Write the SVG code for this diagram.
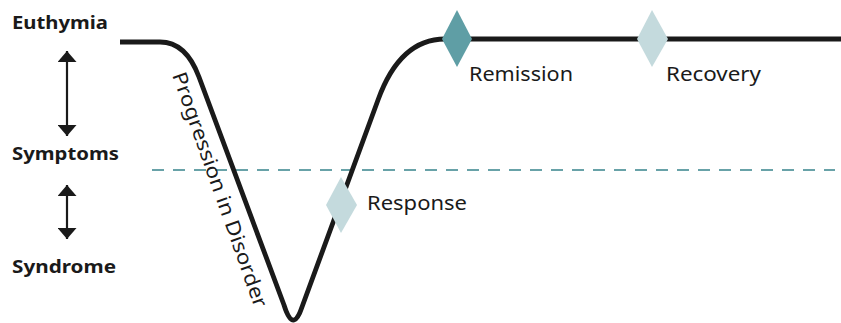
<svg xmlns="http://www.w3.org/2000/svg" width="841" height="323" viewBox="0 0 841 323">
<defs>
<marker id="ah" viewBox="0 0 11 19" refX="11" refY="9.5" markerWidth="11" markerHeight="19" markerUnits="userSpaceOnUse" orient="auto-start-reverse">
<path d="M0,0 L11,9.5 L0,19 z" fill="#1a1a1a"/>
</marker>
<style>
.lvl{font-family:"Noto Sans",sans-serif;font-weight:bold;font-size:18px;fill:#1a1a1a}
.lbl{font-family:"Noto Sans",sans-serif;font-size:20px;fill:#1a1a1a}
.arr{stroke:#1a1a1a;stroke-width:2.2;fill:none;marker-start:url(#ah);marker-end:url(#ah)}
</style>
</defs>
<rect width="841" height="323" fill="#fff"/>
<g id="levels">
<text class="lvl" x="12" y="29" textLength="96" lengthAdjust="spacingAndGlyphs">Euthymia</text>
<text class="lvl" x="12" y="160" textLength="107" lengthAdjust="spacingAndGlyphs">Symptoms</text>
<text class="lvl" x="12" y="273" textLength="104" lengthAdjust="spacingAndGlyphs">Syndrome</text>
</g>
<g id="connectors">
<line class="arr" x1="67" y1="51" x2="67" y2="136"/>
<line class="arr" x1="67" y1="185" x2="67" y2="239"/>
<line x1="152" y1="170" x2="835" y2="170" stroke="#68a2a8" stroke-width="2.2" stroke-dasharray="12 9"/>
<path d="M120,42 L160,42 Q186,42 199,77 L284,305 Q289,321 294,320 Q298,319 302,307 L378,100 Q400,39 445,39 L841,39" fill="none" stroke="#1a1a1a" stroke-width="4.8" stroke-linejoin="round"/>
</g>
<g id="progression">
<text class="lbl" transform="translate(172,75) rotate(70.5)" textLength="248" lengthAdjust="spacingAndGlyphs">Progression in Disorder</text>
</g>
<g id="response">
<path d="M341,177 L357,205 L341,233 L326,205 z" fill="#c4dadd"/>
<text class="lbl" x="367" y="210" textLength="100" lengthAdjust="spacingAndGlyphs">Response</text>
</g>
<g id="remission">
<path d="M457,10 L472,39 L457,67 L442,39 z" fill="#5f9ea5"/>
<text class="lbl" x="469" y="81" textLength="104" lengthAdjust="spacingAndGlyphs">Remission</text>
</g>
<g id="recovery">
<path d="M652,10 L668,39 L652,67 L637,39 z" fill="#c4dadd"/>
<text class="lbl" x="666" y="81" textLength="95" lengthAdjust="spacingAndGlyphs">Recovery</text>
</g>
</svg>
